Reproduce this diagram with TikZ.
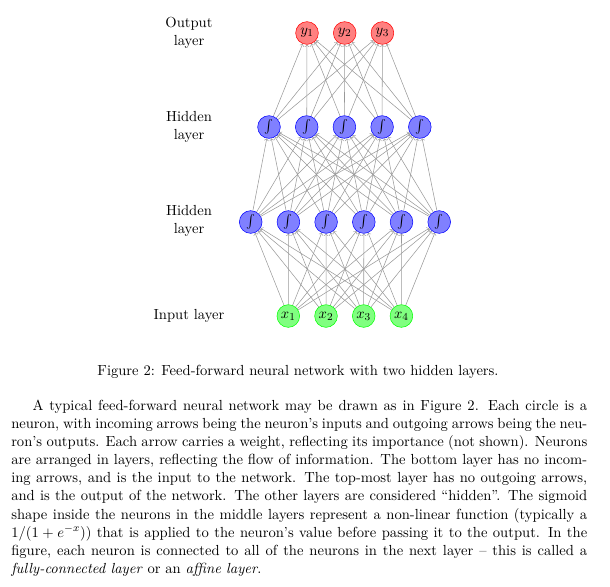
\documentclass[tikz,border=0pt]{standalone}
\usetikzlibrary{arrows}
\tikzset{
  every node/.style={font=\fontsize{10.95}{13.6}\selectfont},
  neuron/.style={circle,draw,minimum size=17pt,inner sep=0pt},
  outneuron/.style={neuron,draw=red,fill=red!50},
  hidneuron/.style={neuron,draw=blue,fill=blue!50},
  inneuron/.style={neuron,draw=green,fill=green!50},
  synapse/.style={->,gray!80},
  layerlabel/.style={align=center}
}
\begin{document}
\begin{tikzpicture}[x=0.75pt,y=-0.75pt]
\useasboundingbox (0,0) rectangle (610,586);
% neurons
\foreach \i in {1,...,4}
  \node[inneuron] (In\i) at (250.6+37.7*\i,316) {$x_\i$};
\foreach \i in {1,...,6}
  \node[hidneuron] (Ha\i) at (213+37.7*\i,222) {$\int$};
\foreach \i in {1,...,5}
  \node[hidneuron] (Hb\i) at (231.3+37.7*\i,127) {$\int$};
\foreach \i in {1,...,3}
  \node[outneuron] (Out\i) at (269.3+37.7*\i,33) {$y_\i$};
% connections
\foreach \i in {1,...,4}
  \foreach \j in {1,...,6}
    \draw[synapse] (In\i) -- (Ha\j);
\foreach \i in {1,...,6}
  \foreach \j in {1,...,5}
    \draw[synapse] (Ha\i) -- (Hb\j);
\foreach \i in {1,...,5}
  \foreach \j in {1,...,3}
    \draw[synapse] (Hb\i) -- (Out\j);
% layer names
\node[layerlabel] (lblout) at (189,32.5) {Output\\layer};
\node[layerlabel] (lblhb) at (189,127) {Hidden\\layer};
\node[layerlabel] (lblha) at (189,221) {Hidden\\layer};
\node (lblin) at (189,316) {Input layer};
% caption and text
\node[anchor=base] (caption) at (298,375)
  {Figure 2: Feed-forward neural network with two hidden layers.};
\node[anchor=north west,inner sep=0pt,text width=432pt,align=justify] (para) at (11,399.5)
  {\hspace*{16pt}A typical feed-forward neural network may be drawn as in Figure 2. Each circle is a\linebreak
  neuron, with incoming arrows being the neuron's inputs and outgoing arrows being the neu-\linebreak
  ron's outputs. Each arrow carries a weight, reflecting its importance (not shown). Neurons\linebreak
  are arranged in layers, reflecting the flow of information. The bottom layer has no incom-\linebreak
  ing arrows, and is the input to the network. The top-most layer has no outgoing arrows,\linebreak
  and is the output of the network. The other layers are considered ``hidden''. The sigmoid\linebreak
  shape inside the neurons in the middle layers represent a non-linear function (typically a\linebreak
  $1/(1+e^{-x})$) that is applied to the neuron's value before passing it to the output. In the\linebreak
  figure, each neuron is connected to all of the neurons in the next layer -- this is called a\linebreak
  \emph{fully-connected layer} or an \emph{affine layer}.};
\end{tikzpicture}
\end{document}
